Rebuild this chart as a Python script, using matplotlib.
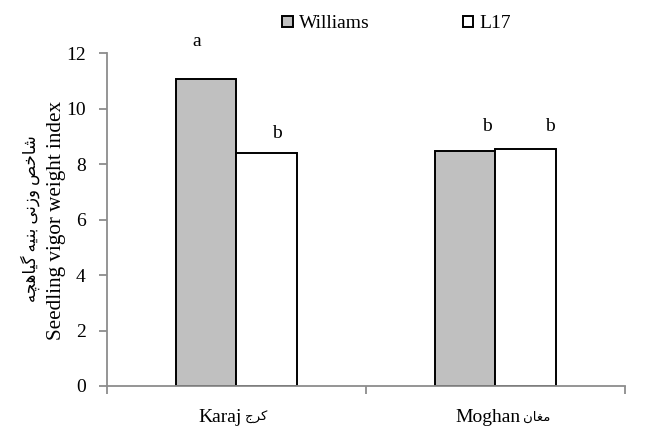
import numpy as np
import matplotlib
matplotlib.use("Agg")
import matplotlib.pyplot as plt

# data
locations = ["Karaj", "Moghan"]
locations_fa = ["کرج", "مغان"]
cultivars = ["Williams", "L17"]
williams = [11.09, 8.48]
l17 = [8.42, 8.54]
# significance letters, as placed in the original
letters = ["a", "b", "b", "b"]
letter_x = [-0.151, 0.158, 0.968, 1.212]
letter_y = [12.42, 9.12, 9.36, 9.36]
# where the English part of each category label ends (data units)
label_end = [0.022, 1.096]

# small Persian shaper (matplotlib does no Arabic joining / RTL)
FORMS = {
    'ا': ('\uFE8D', '\uFE8E', None, None),
    'ب': ('\uFE8F', '\uFE90', '\uFE91', '\uFE92'),
    'ج': ('\uFE9D', '\uFE9E', '\uFE9F', '\uFEA0'),
    'چ': ('\uFB7A', '\uFB7B', '\uFB7C', '\uFB7D'),
    'خ': ('\uFEA5', '\uFEA6', '\uFEA7', '\uFEA8'),
    'ر': ('\uFEAD', '\uFEAE', None, None),
    'ز': ('\uFEAF', '\uFEB0', None, None),
    'ش': ('\uFEB5', '\uFEB6', '\uFEB7', '\uFEB8'),
    'ص': ('\uFEB9', '\uFEBA', '\uFEBB', '\uFEBC'),
    'غ': ('\uFECD', '\uFECE', '\uFECF', '\uFED0'),
    'ک': ('\uFB8E', '\uFB8F', '\uFB90', '\uFB91'),
    'گ': ('\uFB92', '\uFB93', '\uFB94', '\uFB95'),
    'م': ('\uFEE1', '\uFEE2', '\uFEE3', '\uFEE4'),
    'ن': ('\uFEE5', '\uFEE6', '\uFEE7', '\uFEE8'),
    'و': ('\uFEED', '\uFEEE', None, None),
    'ه': ('\uFEE9', '\uFEEA', '\uFEEB', '\uFEEC'),
    'ی': ('\uFBFC', '\uFBFD', '\uFBFE', '\uFBFF'),
}


def shape(text):
    words = []
    for word in text.split(' '):
        res = []
        for i, c in enumerate(word):
            prev = word[i - 1] if i > 0 else None
            nxt = word[i + 1] if i + 1 < len(word) else None
            join_prev = prev in FORMS and FORMS[prev][2] is not None
            join_next = nxt in FORMS and FORMS[c][2] is not None
            iso, fin, ini, med = FORMS[c]
            if join_prev and join_next:
                res.append(med)
            elif join_prev:
                res.append(fin)
            elif join_next:
                res.append(ini)
            else:
                res.append(iso)
        words.append(''.join(reversed(res)))
    return ' '.join(reversed(words))


plt.rcParams['font.family'] = ['Liberation Serif', 'DejaVu Sans']

fig = plt.figure(figsize=(6.53, 4.34), dpi=100)
ax = fig.add_axes([0.1634, 0.1106, 0.7933, 0.7666])

x = np.arange(len(locations))
w = 0.233
ax.bar(x - w / 2, williams, w, color="#c0c0c0", edgecolor="black", linewidth=1.4, label=cultivars[0])
ax.bar(x + w / 2, l17, w, color="white", edgecolor="black", linewidth=1.4, label=cultivars[1])

for lx, ly, s in zip(letter_x, letter_y, letters):
    ax.text(lx, ly, s, ha="center", va="center", fontsize=14)

ax.set_xlim(-0.5, 1.5)
ax.set_ylim(0, 12)
ax.set_yticks(range(0, 13, 2))
ax.set_xticks([-0.5, 0.5, 1.5])
ax.set_xticklabels([])
for i in range(len(locations)):
    ax.text(label_end[i], -1.15, locations[i], ha="right", va="center", fontsize=14)
    ax.annotate(shape(locations_fa[i]), (label_end[i], -1.15), xytext=(2, 0), textcoords="offset points",
                ha="left", va="center", fontsize=9.5, annotation_clip=False)

for side in ["top", "right"]:
    ax.spines[side].set_visible(False)
for side in ["left", "bottom"]:
    ax.spines[side].set_color("#8c8c8c")
    ax.spines[side].set_linewidth(1.3)
ax.tick_params(axis="both", colors="#8c8c8c", width=1.3, length=6, labelcolor="black", labelsize=14)
ax.tick_params(axis="y", pad=9)

# two-line y label: Persian outside, English inside
fig.text(0.047, 0.497, shape("شاخص وزنی بنیه گیاهچه"), rotation=90, ha="center", va="center", fontsize=12)
fig.text(0.087, 0.493, "Seedling vigor weight index", rotation=90, ha="center", va="center", fontsize=15.2)

fig.legend(loc="upper center", bbox_to_anchor=(0.607, 1.005), ncol=2, frameon=False,
           fontsize=14, handlelength=0.55, handleheight=0.55, handletextpad=0.3,
           columnspacing=4.8)

fig.savefig("out.png", dpi=100)
